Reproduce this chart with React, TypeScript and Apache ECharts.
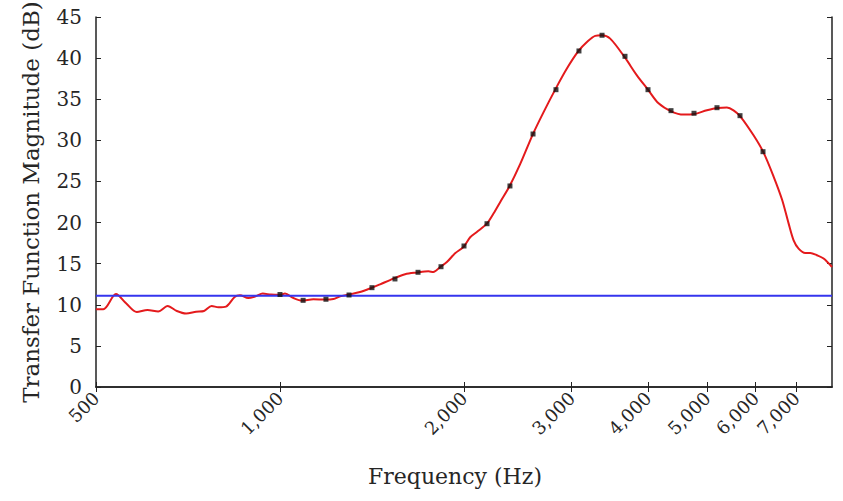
import React, { useEffect, useRef } from "react";
import * as echarts from "echarts";

// Red curve: frequency (Hz) and magnitude (dB)
const lineFreq = [500, 514, 539, 560, 583, 607, 632, 655, 678, 702, 729, 751, 773, 793, 816, 843, 860, 887, 912, 937, 967, 1000, 1019, 1052, 1086, 1134, 1185, 1223, 1254, 1294, 1352, 1410, 1458, 1533, 1602, 1674, 1749, 1782, 1828, 1875, 1934, 1996, 2047, 2099, 2180, 2235, 2300, 2374, 2471, 2592, 2698, 2820, 2947, 3079, 3178, 3279, 3363, 3469, 3661, 3836, 3999, 4162, 4366, 4573, 4761, 4994, 5198, 5385, 5520, 5662, 5953, 6182, 6420, 6627, 6793, 6923, 7054, 7234, 7372, 7560, 7751, 8000];
const lineDb = [9.45, 9.45, 11.3, 10.18, 9.12, 9.37, 9.18, 9.85, 9.24, 8.94, 9.15, 9.24, 9.85, 9.69, 9.78, 10.95, 11.15, 10.81, 11.03, 11.36, 11.24, 11.21, 11.36, 10.82, 10.51, 10.67, 10.63, 10.7, 11.03, 11.24, 11.55, 12.04, 12.49, 13.18, 13.71, 13.92, 14.07, 13.99, 14.59, 15.2, 16.26, 17.03, 18.21, 18.85, 19.87, 21.09, 22.68, 24.41, 27.1, 30.73, 33.4, 36.17, 38.73, 40.87, 41.96, 42.71, 42.78, 42.37, 40.14, 37.9, 36.17, 34.5, 33.53, 33.13, 33.2, 33.65, 33.93, 33.98, 33.65, 32.92, 30.61, 28.51, 25.6, 22.8, 19.9, 17.84, 16.83, 16.3, 16.3, 16.02, 15.62, 14.59];

// Black markers
const markerFreq = [1000, 1091, 1189, 1297, 1414, 1542, 1682, 1834, 2000, 2181, 2378, 2594, 2828, 3084, 3364, 3668, 4000, 4362, 4757, 5187, 5657, 6169];
const markerDb = [11.25, 10.54, 10.67, 11.19, 12.08, 13.14, 13.95, 14.63, 17.15, 19.86, 24.45, 30.77, 36.16, 40.87, 42.78, 40.22, 36.16, 33.61, 33.29, 33.97, 33.0, 28.62];

// Blue reference level
const refFreq = [500, 8000];
const refDb = [11.1, 11.1];

// Axes
const xTickFreqs = [500, 1000, 2000, 3000, 4000, 5000, 6000, 7000];
const xMin = 500;
const xMax = 8000;
const yMin = 0;
const yMax = 45;
const yStep = 5;

const FONT = "DejaVu Serif";
const TXT = "#262626";

export default function App() {
  const ref = useRef<HTMLDivElement>(null);

  useEffect(() => {
    if (!ref.current) return;
    const chart = echarts.init(ref.current, undefined, { renderer: "svg" });
    const lg = (f: number) => Math.log10(f);
    const tickVals = xTickFreqs.map(lg);
    const axisLine = { show: true, lineStyle: { color: "#222", width: 1.5 } };

    chart.setOption({
      animation: false,
      backgroundColor: "#ffffff",
      grid: { left: 96, right: 11, top: 17, bottom: 114, outerBoundsMode: "none", containLabel: false },
      xAxis: [
        {
          type: "value",
          position: "bottom",
          min: lg(xMin),
          max: lg(xMax),
          axisLine,
          axisTick: { show: true, inside: true, length: 5, lineStyle: { color: "#222", width: 1 }, customValues: tickVals },
          axisLabel: {
            customValues: tickVals,
            rotate: 45,
            margin: 8,
            fontFamily: FONT,
            fontSize: 18,
            color: TXT,
            formatter: (v: number) => Math.round(Math.pow(10, v)).toLocaleString("en-US"),
          },
          splitLine: { show: false },
          name: "Frequency (Hz)",
          nameLocation: "middle",
          nameGap: 78,
          nameTextStyle: { fontFamily: FONT, fontSize: 22, color: TXT, padding: [0, 18, 0, 0] },
        },
        {
          type: "value",
          position: "top",
          min: lg(xMin),
          max: lg(xMax),
          axisLine,
          axisTick: { show: true, inside: true, length: 5, lineStyle: { color: "#222", width: 1 }, customValues: tickVals },
          axisLabel: { show: false },
          splitLine: { show: false },
        },
      ],
      yAxis: [
        {
          type: "value",
          position: "left",
          min: yMin,
          max: yMax,
          interval: yStep,
          axisLine,
          axisTick: { show: true, inside: true, length: 5, lineStyle: { color: "#222", width: 1 } },
          axisLabel: { margin: 14, fontFamily: FONT, fontSize: 20, color: TXT },
          splitLine: { show: false },
          name: "Transfer Function Magnitude (dB)",
          nameLocation: "middle",
          nameGap: 54,
          nameTextStyle: { fontFamily: FONT, fontSize: 23, color: TXT },
        },
        {
          type: "value",
          position: "right",
          min: yMin,
          max: yMax,
          interval: yStep,
          axisLine,
          axisTick: { show: true, inside: true, length: 5, lineStyle: { color: "#222", width: 1 } },
          axisLabel: { show: false },
          splitLine: { show: false },
        },
      ],
      series: [
        {
          type: "line",
          name: "magnitude",
          data: lineFreq.map((f, i) => [lg(f), lineDb[i]]),
          showSymbol: false,
          smooth: 0.3,
          lineStyle: { color: "#e41a1c", width: 2 },
          z: 2,
        },
        {
          type: "line",
          name: "reference",
          data: refFreq.map((f, i) => [lg(f), refDb[i]]),
          showSymbol: false,
          lineStyle: { color: "#3535ee", width: 2 },
          z: 3,
        },
        {
          type: "scatter",
          name: "points",
          data: markerFreq.map((f, i) => [lg(f), markerDb[i]]),
          symbol: "rect",
          symbolSize: 5,
          itemStyle: { color: "#111" },
          z: 4,
        },
      ],
    });

    return () => chart.dispose();
  }, []);

  return (
    <div
      ref={ref}
      style={{ position: "fixed", left: 0, top: 0, width: 843, height: 501, background: "#fff" }}
    />
  );
}
